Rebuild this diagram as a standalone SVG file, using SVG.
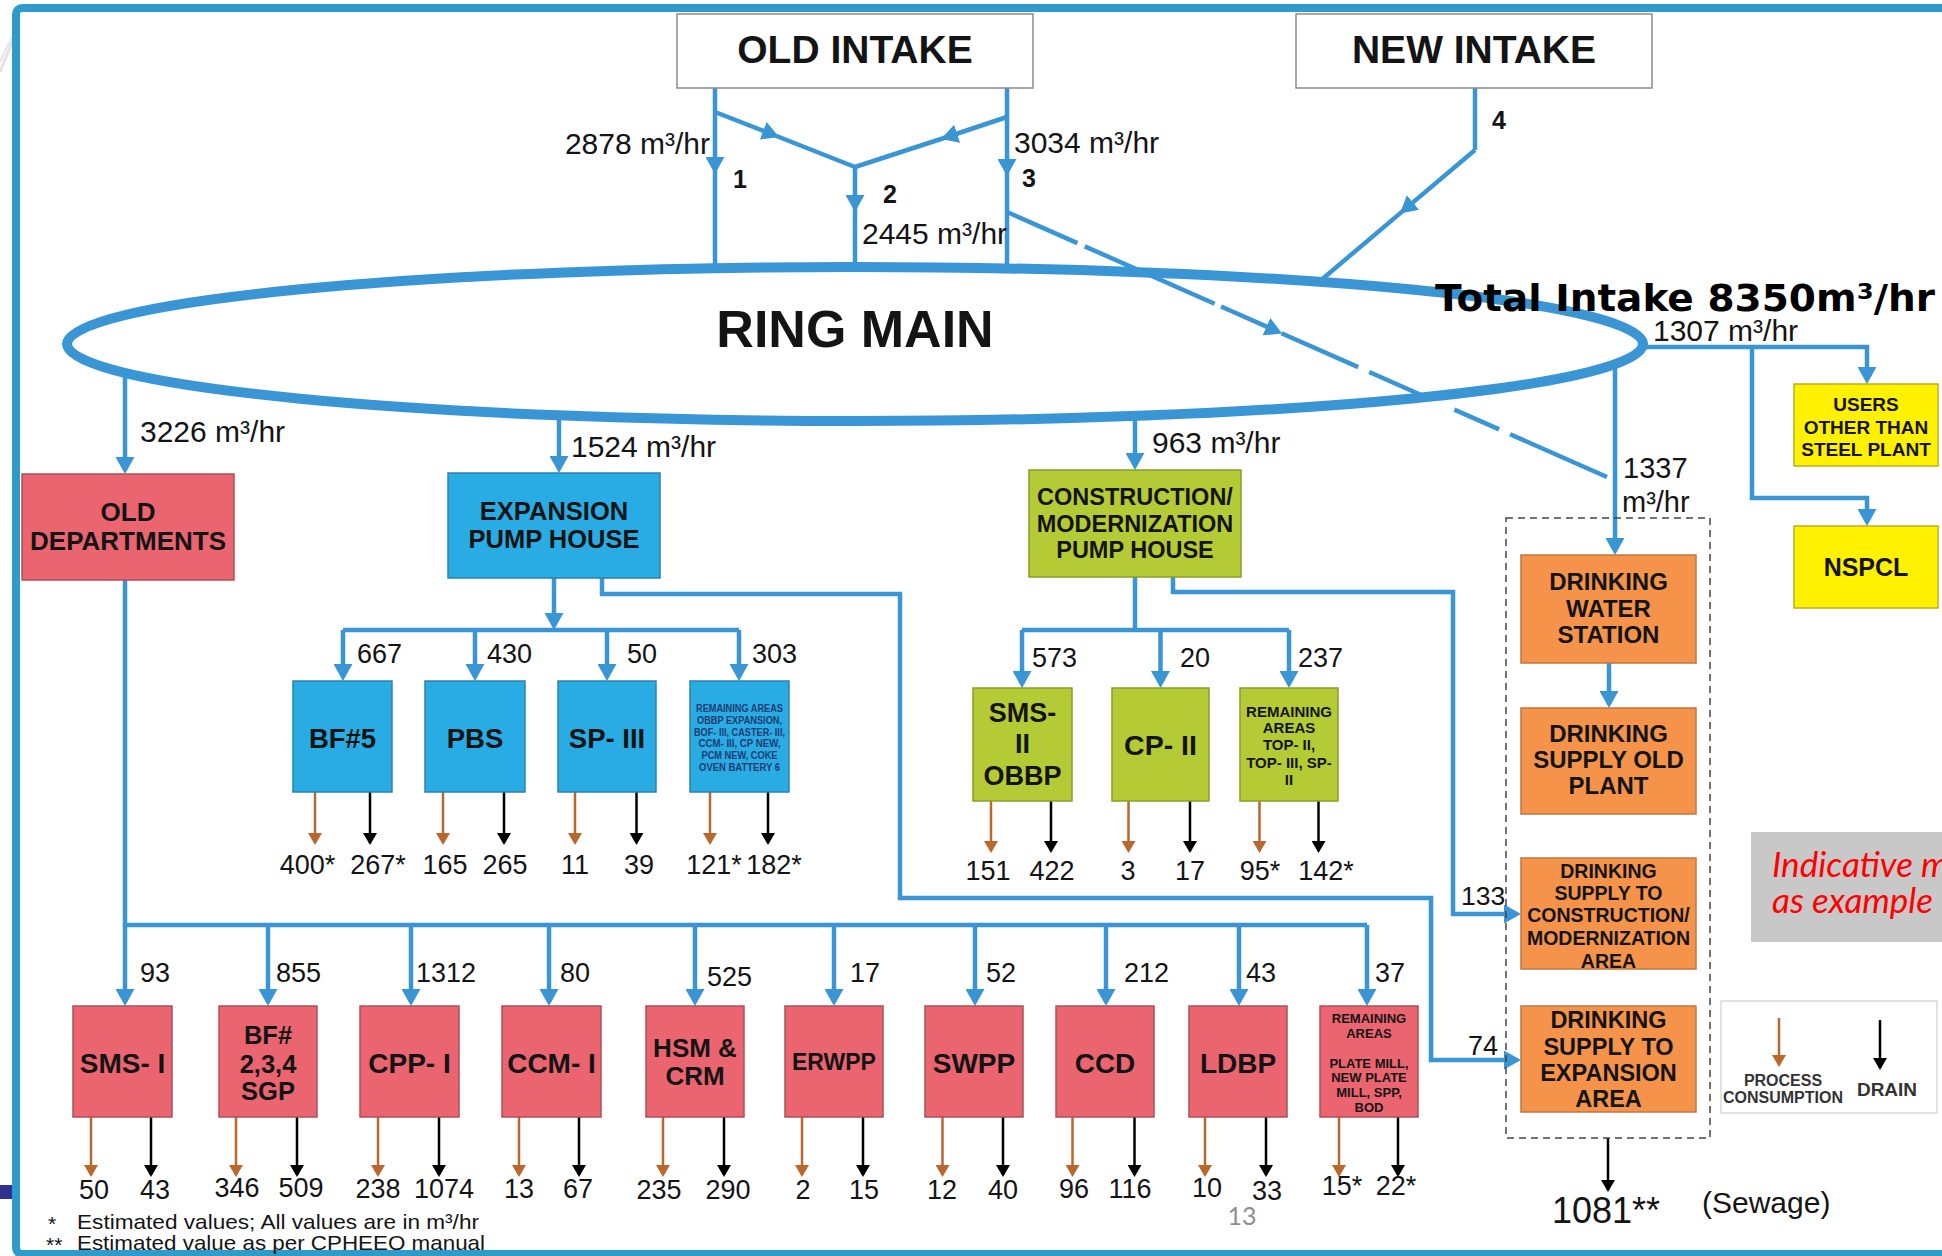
<svg xmlns="http://www.w3.org/2000/svg" width="1942" height="1256" viewBox="0 0 1942 1256">
<defs>
<style>
.f{font-family:"Liberation Sans",Arial,sans-serif;fill:#141414}
.b{font-weight:bold}
.c{text-anchor:middle}
.ln{fill:none;stroke:#3A95D5;stroke-width:4.5}
.pr{fill:none;stroke:#B9672D;stroke-width:2.5}
.dr{fill:none;stroke:#000;stroke-width:2.5}
.red{fill:#EA6570;stroke:#A9525A;stroke-width:1.5}
.blu{fill:#28ACE3;stroke:#2B83AE;stroke-width:1.5}
.grn{fill:#B4CB36;stroke:#8A9E2C;stroke-width:1.5}
.org{fill:#F5934B;stroke:#C0773F;stroke-width:1.5}
.yel{fill:#FFF100;stroke:#BFAF1C;stroke-width:1.5}
.wb{fill:#fff;stroke:#8a8a8a;stroke-width:1.5}
.q{font-size:30px}
.n{font-size:27px}
.v{font-size:26px}
</style>
<marker id="a" viewBox="0 0 17 19" markerWidth="17" markerHeight="19" refX="13" refY="9.5" orient="auto" markerUnits="userSpaceOnUse"><path d="M0,0L17,9.5L0,19z" fill="#3A95D5"/></marker>
<marker id="m" viewBox="0 0 17 19" markerWidth="17" markerHeight="19" refX="17" refY="9.5" orient="auto" markerUnits="userSpaceOnUse"><path d="M0,0L17,9.5L0,19z" fill="#3A95D5"/></marker>
<marker id="p" viewBox="0 0 12 14" markerWidth="12" markerHeight="14" refX="10" refY="7" orient="auto" markerUnits="userSpaceOnUse"><path d="M0,0L12,7L0,14z" fill="#B9672D"/></marker>
<marker id="k" viewBox="0 0 12 14" markerWidth="12" markerHeight="14" refX="10" refY="7" orient="auto" markerUnits="userSpaceOnUse"><path d="M0,0L12,7L0,14z" fill="#000"/></marker>
</defs>
<rect width="1942" height="1256" fill="#fff"/>
<path d="M0,72 Q8,52 14,38" fill="none" stroke="#e6cfd3" stroke-width="3" opacity="0.7"/>
<path d="M0,62 Q7,46 14,34" fill="none" stroke="#d8d8d8" stroke-width="2" opacity="0.7"/>
<rect x="0" y="1185" width="12" height="14" fill="#2E3192"/>
<rect x="16" y="8" width="1960" height="1246" rx="6" fill="#fff" stroke="#2E9CCA" stroke-width="8"/>

<g id="ring-main">
<ellipse cx="855" cy="344" rx="788" ry="77" fill="none" stroke="#3A95D5" stroke-width="10"/>
<text class="f b c" x="855" y="347" font-size="52">RING MAIN</text>
</g>

<g id="connectors">
<path class="ln" marker-mid="url(#m)" d="M715,88L715,174L715,268"/>
<path class="ln" marker-mid="url(#m)" d="M1007,88L1007,176L1007,268"/>
<path class="ln" marker-mid="url(#m)" d="M715,112L779,137L855,167"/>
<path class="ln" marker-mid="url(#m)" d="M1007,117L941,139L855,167"/>
<path class="ln" marker-mid="url(#m)" d="M855,167L855,212L855,268"/>
<path class="ln" d="M1475,88L1475,150"/>
<path class="ln" marker-mid="url(#m)" d="M1475,150L1400,213.4L1320,281"/>
<path class="ln" stroke-dasharray="77 8 142 7 56 10 84 12 58 35 49 12 117" marker-mid="url(#m)" d="M1007,212L1282,333.5L1607,477"/>
<path class="ln" marker-end="url(#a)" d="M125,372L125,470"/>
<path class="ln" marker-end="url(#a)" d="M559,414L559,469"/>
<path class="ln" marker-end="url(#a)" d="M1135,415L1135,466"/>
<path class="ln" marker-end="url(#a)" d="M1615,362L1615,551"/>
<path class="ln" marker-end="url(#a)" d="M1643,347L1867,347L1867,380"/>
<path class="ln" marker-end="url(#a)" d="M1752,347L1752,498L1867,498L1867,522"/>
<path class="ln" marker-end="url(#a)" d="M1609,663L1609,704"/>
<path class="ln" marker-end="url(#a)" d="M1173,577L1173,592L1453,592L1453,914L1517,914"/>
<path class="ln" marker-end="url(#a)" d="M602,578L602,594L900,594L900,898L1431,898L1431,1060L1517,1060"/>
<path class="ln" d="M125,580L125,925L1367,925"/>
<path class="ln" marker-end="url(#a)" d="M125,925L125,1002"/>
<path class="ln" marker-end="url(#a)" d="M268,925L268,1002"/>
<path class="ln" marker-end="url(#a)" d="M411,925L411,1002"/>
<path class="ln" marker-end="url(#a)" d="M549,925L549,1002"/>
<path class="ln" marker-end="url(#a)" d="M695,925L695,1002"/>
<path class="ln" marker-end="url(#a)" d="M834,925L834,1002"/>
<path class="ln" marker-end="url(#a)" d="M975,925L975,1002"/>
<path class="ln" marker-end="url(#a)" d="M1106,925L1106,1002"/>
<path class="ln" marker-end="url(#a)" d="M1239,925L1239,1002"/>
<path class="ln" marker-end="url(#a)" d="M1367,925L1367,1002"/>
<path class="ln" marker-end="url(#a)" d="M554,578L554,626"/>
<path class="ln" d="M343,630L739,630"/>
<path class="ln" marker-end="url(#a)" d="M343,630L343,677"/>
<path class="ln" marker-end="url(#a)" d="M475,630L475,677"/>
<path class="ln" marker-end="url(#a)" d="M607,630L607,677"/>
<path class="ln" marker-end="url(#a)" d="M739,630L739,677"/>
<path class="ln" d="M1135,577L1135,630"/>
<path class="ln" d="M1022,630L1289,630"/>
<path class="ln" marker-end="url(#a)" d="M1022,630L1022,684"/>
<path class="ln" marker-end="url(#a)" d="M1160.5,630L1160.5,684"/>
<path class="ln" marker-end="url(#a)" d="M1289,630L1289,684"/>
<!-- process / drain arrows: blue sub-boxes -->
<path class="pr" marker-end="url(#p)" d="M315,792L315,843"/>
<path class="dr" marker-end="url(#k)" d="M370,792L370,843"/>
<path class="pr" marker-end="url(#p)" d="M443,792L443,843"/>
<path class="dr" marker-end="url(#k)" d="M504,792L504,843"/>
<path class="pr" marker-end="url(#p)" d="M575,792L575,843"/>
<path class="dr" marker-end="url(#k)" d="M636.5,792L636.5,843"/>
<path class="pr" marker-end="url(#p)" d="M710,792L710,843"/>
<path class="dr" marker-end="url(#k)" d="M768,792L768,843"/>
<!-- green -->
<path class="pr" marker-end="url(#p)" d="M991,801L991,851"/>
<path class="dr" marker-end="url(#k)" d="M1051,801L1051,851"/>
<path class="pr" marker-end="url(#p)" d="M1128.5,801L1128.5,851"/>
<path class="dr" marker-end="url(#k)" d="M1190,801L1190,851"/>
<path class="pr" marker-end="url(#p)" d="M1259.5,801L1259.5,851"/>
<path class="dr" marker-end="url(#k)" d="M1318.5,801L1318.5,851"/>
<!-- red -->
<path class="pr" marker-end="url(#p)" d="M91,1117L91,1175"/>
<path class="dr" marker-end="url(#k)" d="M151,1117L151,1175"/>
<path class="pr" marker-end="url(#p)" d="M236,1117L236,1175"/>
<path class="dr" marker-end="url(#k)" d="M297,1117L297,1175"/>
<path class="pr" marker-end="url(#p)" d="M378,1117L378,1175"/>
<path class="dr" marker-end="url(#k)" d="M439,1117L439,1175"/>
<path class="pr" marker-end="url(#p)" d="M519,1117L519,1175"/>
<path class="dr" marker-end="url(#k)" d="M579,1117L579,1175"/>
<path class="pr" marker-end="url(#p)" d="M663,1117L663,1175"/>
<path class="dr" marker-end="url(#k)" d="M724,1117L724,1175"/>
<path class="pr" marker-end="url(#p)" d="M802,1117L802,1175"/>
<path class="dr" marker-end="url(#k)" d="M863,1117L863,1175"/>
<path class="pr" marker-end="url(#p)" d="M942.5,1117L942.5,1175"/>
<path class="dr" marker-end="url(#k)" d="M1003,1117L1003,1175"/>
<path class="pr" marker-end="url(#p)" d="M1072.5,1117L1072.5,1175"/>
<path class="dr" marker-end="url(#k)" d="M1134.5,1117L1134.5,1175"/>
<path class="pr" marker-end="url(#p)" d="M1205,1117L1205,1175"/>
<path class="dr" marker-end="url(#k)" d="M1266,1117L1266,1175"/>
<path class="pr" marker-end="url(#p)" d="M1339,1117L1339,1175"/>
<path class="dr" marker-end="url(#k)" d="M1398,1117L1398,1175"/>
<path class="dr" marker-end="url(#k)" d="M1608,1138L1608,1190"/>
</g>

<g id="labels">
<text class="f q" x="710" y="154" text-anchor="end">2878 m³/hr</text>
<text class="f q" x="1014" y="153">3034 m³/hr</text>
<text class="f q" x="862" y="244">2445 m³/hr</text>
<text class="f b c" font-size="25" x="740" y="188">1</text>
<text class="f b c" font-size="25" x="890" y="203">2</text>
<text class="f b c" font-size="25" x="1029" y="187">3</text>
<text class="f b c" font-size="25" x="1499" y="129">4</text>
<text class="f q" x="140" y="442">3226 m³/hr</text>
<text class="f q" x="571" y="457">1524 m³/hr</text>
<text class="f q" x="1152" y="453">963 m³/hr</text>
<text class="f q" x="1653" y="341">1307 m³/hr</text>
<text class="f" font-size="29" x="1623" y="478">1337</text>
<text class="f" font-size="29" x="1622" y="512">m³/hr</text>
<text class="f" font-size="26.5" x="1461" y="905">133</text>
<text class="f" font-size="27" x="1468" y="1055">74</text>
<text x="1435" y="311" font-family="DejaVu Sans,Verdana,sans-serif" font-weight="bold" font-size="37.5" fill="#000" textLength="500" lengthAdjust="spacingAndGlyphs">Total Intake 8350m³/hr</text>
<g class="f n">
<text x="357" y="663">667</text><text x="487" y="663">430</text><text x="627" y="663">50</text><text x="752" y="663">303</text>
<text x="1032" y="667">573</text><text x="1180" y="667">20</text><text x="1298" y="667">237</text>
<text x="140" y="982">93</text><text x="276" y="982">855</text><text x="416" y="982">1312</text><text x="560" y="982">80</text><text x="707" y="986">525</text><text x="850" y="982">17</text><text x="986" y="982">52</text><text x="1124" y="982">212</text><text x="1246" y="982">43</text><text x="1375" y="982">37</text>
</g>
<g class="f c n">
<text x="307.5" y="874">400*</text><text x="378" y="874">267*</text><text x="445" y="874">165</text><text x="505" y="874">265</text><text x="575" y="874">11</text><text x="639" y="874">39</text><text x="714" y="874">121*</text><text x="774" y="874">182*</text>
<text x="988" y="880">151</text><text x="1052" y="880">422</text><text x="1128" y="880">3</text><text x="1190" y="880">17</text><text x="1260" y="880">95*</text><text x="1326" y="880">142*</text>
<text x="94" y="1199">50</text><text x="155" y="1199">43</text><text x="237" y="1197">346</text><text x="301" y="1197">509</text><text x="378" y="1198">238</text><text x="444" y="1198">1074</text><text x="519" y="1198">13</text><text x="578" y="1198">67</text><text x="659" y="1199">235</text><text x="728" y="1199">290</text><text x="803" y="1199">2</text><text x="864" y="1199">15</text><text x="942" y="1199">12</text><text x="1003" y="1199">40</text><text x="1074" y="1198">96</text><text x="1130" y="1198">116</text><text x="1207" y="1197">10</text><text x="1267" y="1200">33</text><text x="1342" y="1195">15*</text><text x="1396" y="1195">22*</text>
</g>
<text class="f" font-size="36" x="1552" y="1223">1081**</text>
<text class="f" font-size="30" x="1702" y="1213">(Sewage)</text>
<text x="1242" y="1225" font-family="Lato,'Open Sans',sans-serif" font-size="25" fill="#8f8f8f" text-anchor="middle">13</text>
</g>

<g id="old-intake"><rect class="wb" x="677" y="14" width="356" height="74"/><text class="f b c" x="855" y="63" font-size="39">OLD INTAKE</text></g>
<g id="new-intake"><rect class="wb" x="1296" y="14" width="356" height="74"/><text class="f b c" x="1474" y="63" font-size="39">NEW INTAKE</text></g>

<g id="old-departments"><rect class="red" x="22" y="474" width="212" height="106"/><text class="f b c" x="128" y="521" font-size="26">OLD</text><text class="f b c" x="128" y="550" font-size="26">DEPARTMENTS</text></g>
<g id="expansion-pump-house"><rect class="blu" x="448" y="473" width="212" height="105"/><text class="f b c" x="554" y="520" font-size="25.5">EXPANSION</text><text class="f b c" x="554" y="548" font-size="25.5">PUMP HOUSE</text></g>
<g id="cm-pump-house"><rect class="grn" x="1029" y="470" width="212" height="107"/><text class="f b c" x="1135" y="505" font-size="23.5">CONSTRUCTION/</text><text class="f b c" x="1135" y="532" font-size="23.5">MODERNIZATION</text><text class="f b c" x="1135" y="558" font-size="23.5">PUMP HOUSE</text></g>

<g id="bf5"><rect class="blu" x="293" y="681" width="99" height="111"/><text class="f b c" x="342.5" y="748" font-size="27.5">BF#5</text></g>
<g id="pbs"><rect class="blu" x="425" y="681" width="100" height="111"/><text class="f b c" x="475" y="748" font-size="27.5">PBS</text></g>
<g id="sp3"><rect class="blu" x="558" y="681" width="98" height="111"/><text class="f b c" x="607" y="748" font-size="27.5">SP- III</text></g>
<g id="rem-expansion"><rect class="blu" x="690" y="681" width="99" height="111"/>
<g class="f b c" font-size="10" style="fill:#1F3B73">
<text x="739.5" y="711.5" textLength="87" lengthAdjust="spacingAndGlyphs">REMAINING AREAS</text>
<text x="739.5" y="723.5" textLength="85" lengthAdjust="spacingAndGlyphs">OBBP EXPANSION,</text>
<text x="739.5" y="735.5" textLength="91" lengthAdjust="spacingAndGlyphs">BOF- III, CASTER- III,</text>
<text x="739.5" y="747" textLength="82" lengthAdjust="spacingAndGlyphs">CCM- III, CP NEW,</text>
<text x="739.5" y="759" textLength="76" lengthAdjust="spacingAndGlyphs">PCM NEW, COKE</text>
<text x="739.5" y="771" textLength="81" lengthAdjust="spacingAndGlyphs">OVEN BATTERY 6</text>
</g></g>

<g id="sms2"><rect class="grn" x="973" y="688" width="99" height="113"/><text class="f b c" x="1022.5" y="722" font-size="27">SMS-</text><text class="f b c" x="1022.5" y="753" font-size="27">II</text><text class="f b c" x="1022.5" y="785" font-size="27">OBBP</text></g>
<g id="cp2"><rect class="grn" x="1112" y="688" width="97" height="113"/><text class="f b c" x="1160.5" y="755" font-size="28.5">CP- II</text></g>
<g id="rem-cm"><rect class="grn" x="1240" y="688" width="98" height="113"/>
<g class="f b c" font-size="15"><text x="1289" y="716.5">REMAINING</text><text x="1289" y="732.5">AREAS</text><text x="1289" y="749.5">TOP- II,</text><text x="1289" y="767.5">TOP- III, SP-</text><text x="1289" y="784.5">II</text></g></g>

<g id="sms1"><rect class="red" x="73" y="1006" width="99" height="111"/><text class="f b c" x="122.5" y="1073" font-size="28">SMS- I</text></g>
<g id="bf234"><rect class="red" x="219" y="1006" width="98" height="111"/><text class="f b c" x="268" y="1044" font-size="25.5">BF#</text><text class="f b c" x="268" y="1073" font-size="25.5">2,3,4</text><text class="f b c" x="268" y="1100" font-size="25.5">SGP</text></g>
<g id="cpp1"><rect class="red" x="360" y="1006" width="99" height="111"/><text class="f b c" x="409.5" y="1073" font-size="28">CPP- I</text></g>
<g id="ccm1"><rect class="red" x="502" y="1006" width="99" height="111"/><text class="f b c" x="551.5" y="1073" font-size="28">CCM- I</text></g>
<g id="hsm-crm"><rect class="red" x="646" y="1006" width="98" height="111"/><text class="f b c" x="695" y="1057" font-size="26">HSM &amp;</text><text class="f b c" x="695" y="1085" font-size="26">CRM</text></g>
<g id="erwpp"><rect class="red" x="785" y="1006" width="98" height="111"/><text class="f b c" x="834" y="1070" font-size="23">ERWPP</text></g>
<g id="swpp"><rect class="red" x="925" y="1006" width="98" height="111"/><text class="f b c" x="974" y="1073" font-size="28">SWPP</text></g>
<g id="ccd"><rect class="red" x="1056" y="1006" width="98" height="111"/><text class="f b c" x="1105" y="1073" font-size="28">CCD</text></g>
<g id="ldbp"><rect class="red" x="1189" y="1006" width="98" height="111"/><text class="f b c" x="1238" y="1073" font-size="28">LDBP</text></g>
<g id="rem-old"><rect class="red" x="1320" y="1006" width="98" height="111"/>
<g class="f b c" font-size="13"><text x="1369" y="1022.5">REMAINING</text><text x="1369" y="1037.5">AREAS</text><text x="1369" y="1067.5">PLATE MILL,</text><text x="1369" y="1081.5">NEW PLATE</text><text x="1369" y="1096.5">MILL, SPP,</text><text x="1369" y="1111.5">BOD</text></g></g>

<g id="drinking-group"><rect x="1506" y="518" width="204" height="620" fill="none" stroke="#444" stroke-width="1.5" stroke-dasharray="7 5"/></g>
<g id="dws"><rect class="org" x="1521" y="555" width="175" height="108"/><g class="f b c" font-size="24"><text x="1608.5" y="590">DRINKING</text><text x="1608.5" y="617">WATER</text><text x="1608.5" y="643">STATION</text></g></g>
<g id="ds-old"><rect class="org" x="1521" y="708" width="175" height="106"/><g class="f b c" font-size="24"><text x="1608.5" y="742">DRINKING</text><text x="1608.5" y="768">SUPPLY OLD</text><text x="1608.5" y="794">PLANT</text></g></g>
<g id="ds-construction"><rect class="org" x="1521" y="858" width="175" height="111"/><g class="f b c" font-size="19.5"><text x="1608.5" y="878">DRINKING</text><text x="1608.5" y="900">SUPPLY TO</text><text x="1608.5" y="922">CONSTRUCTION/</text><text x="1608.5" y="945">MODERNIZATION</text><text x="1608.5" y="968">AREA</text></g></g>
<g id="ds-expansion"><rect class="org" x="1521" y="1006" width="175" height="106"/><g class="f b c" font-size="23.5"><text x="1608.5" y="1028">DRINKING</text><text x="1608.5" y="1055">SUPPLY TO</text><text x="1608.5" y="1081">EXPANSION</text><text x="1608.5" y="1107">AREA</text></g></g>

<g id="users"><rect class="yel" x="1794" y="384" width="144" height="82"/><g class="f b c" font-size="19"><text x="1866" y="411">USERS</text><text x="1866" y="434">OTHER THAN</text><text x="1866" y="456">STEEL PLANT</text></g></g>
<g id="nspcl"><rect class="yel" x="1794" y="526" width="144" height="82"/><text class="f b c" x="1866" y="576" font-size="25">NSPCL</text></g>

<g id="legend"><rect x="1721" y="1001" width="216" height="112" fill="#fff" stroke="#d8d8d8" stroke-width="1.5"/>
<path class="pr" marker-end="url(#p)" d="M1779,1018L1779,1065"/>
<path class="dr" marker-end="url(#k)" d="M1880,1020L1880,1068"/>
<text class="f b c" x="1783" y="1086" font-size="16" style="fill:#333">PROCESS</text>
<text class="f b c" x="1783" y="1103" font-size="16" style="fill:#333">CONSUMPTION</text>
<text class="f b c" x="1887" y="1096" font-size="19" style="fill:#333">DRAIN</text>
</g>

<g id="note"><rect x="1751" y="832" width="200" height="110" fill="#C8C8C8"/>
<text x="1772" y="877" font-family="Lato,'Open Sans',sans-serif" font-style="italic" font-size="35" fill="#FF0000">Indicative m</text>
<text x="1772" y="913" font-family="Lato,'Open Sans',sans-serif" font-style="italic" font-size="35" fill="#FF0000">as example</text>
</g>

<g id="footnotes" class="f" font-size="21">
<text x="48" y="1231">*</text>
<text x="77" y="1229" textLength="402" lengthAdjust="spacingAndGlyphs">Estimated values; All values are in m³/hr</text>
<text x="46" y="1252">**</text>
<text x="77" y="1250" textLength="408" lengthAdjust="spacingAndGlyphs">Estimated value as per CPHEEO manual</text>
</g>
</svg>
